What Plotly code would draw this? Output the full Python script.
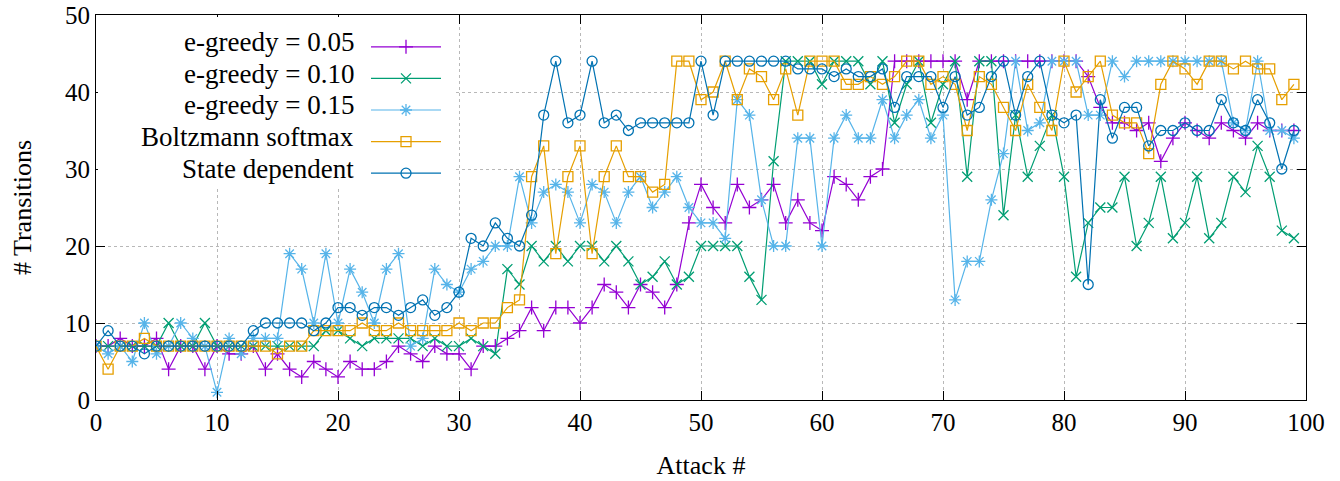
import plotly.graph_objects as go

attack = list(range(100))

eg05 = [7,7,8,7,7,8,4,7,7,4,7,6,6,7,4,6,4,3,5,4,
        3,5,4,4,5,7,6,5,7,6,6,4,7,7,8,9,12,9,12,12,
        10,12,15,14,12,15,14,12,15,23,28,25,23,28,25,26,28,23,26,23,
        22,29,28,26,29,30,44,44,44,44,44,44,39,44,44,44,44,44,44,44,
        44,44,42,38,36,36,35,36,31,34,36,35,34,36,35,34,36,35,35,35]
eg10 = [7,7,7,7,7,7,10,7,7,10,7,7,7,7,7,7,7,7,7,9,
        9,8,7,8,8,8,8,7,8,7,7,8,7,6,17,15,20,18,20,18,
        20,20,18,20,18,15,16,18,15,16,20,20,20,20,16,13,31,44,44,44,
        41,44,44,44,41,44,36,41,44,36,41,44,29,44,44,24,37,29,33,37,
        29,16,23,25,25,29,20,23,29,21,23,29,21,23,29,27,33,29,22,21]
eg15 = [7,6,7,5,10,6,7,10,8,7,1,8,6,8,8,8,19,17,10,19,
        10,17,14,10,17,19,7,8,17,15,14,17,18,20,20,29,23,27,28,27,
        23,28,27,23,27,29,25,27,29,25,23,23,21,39,37,26,20,20,34,34,
        20,34,37,34,34,39,34,37,39,34,37,13,18,18,26,32,44,35,36,44,
        44,44,37,37,44,42,44,44,44,44,44,44,44,44,36,35,44,35,35,34]
boltz = [7,4,7,7,8,7,7,7,7,7,7,7,7,7,7,6,7,7,9,9,
         9,9,10,9,9,10,9,9,9,9,10,9,10,10,12,13,29,33,19,29,
         33,19,29,33,29,29,27,28,44,44,39,40,44,39,43,42,39,43,37,44,
         44,44,41,41,42,41,42,44,44,41,42,41,35,42,41,38,35,41,38,35,
         44,40,42,44,37,36,36,32,41,44,43,41,44,44,43,44,43,43,39,41]
state = [7,9,7,7,6,7,7,7,7,7,7,7,7,9,10,10,10,10,9,10,
         12,12,11,12,12,11,12,13,11,12,14,21,20,23,21,20,24,37,44,36,
         37,44,36,37,35,36,36,36,36,36,44,37,44,44,44,44,44,44,43,43,
         43,42,43,42,42,43,38,42,42,42,38,42,37,38,42,44,37,42,44,37,
         36,37,15,39,34,38,38,33,35,35,36,35,35,39,36,35,39,36,30,35]

names = ["e-greedy = 0.05", "e-greedy = 0.10", "e-greedy = 0.15",
         "Boltzmann softmax", "State dependent"]
series = [eg05, eg10, eg15, boltz, state]
colors = ["#9400d3", "#009e73", "#56b4e9", "#e69f00", "#0072b2"]
symbols = ["cross-thin-open", "x-thin-open", "asterisk-open",
           "square-open", "circle-open"]

FONT = "Liberation Serif"
W, H = 1340, 481
L, T, R, B = 96, 15, 34, 81
pw, ph = W - L - R, H - T - B
bottom_px = 400              # y of the x axis
left_px = 96                 # x of the y axis

fig = go.Figure()
for nm, s, c, sym in zip(names, series, colors, symbols):
    fig.add_trace(go.Scatter(
        x=attack, y=s, mode="lines+markers", name="",
        line=dict(color=c, width=1.2),
        marker=dict(symbol=sym, size=10, color=c, line=dict(color=c, width=1.3)),
        hovertext=nm,
    ))

# legend labels (right-aligned text, gnuplot style)
leg_y = [42, 73.5, 105, 137, 169]
annotations = []
for nm, py in zip(names, leg_y):
    annotations.append(dict(
        x=(356 - left_px) / pw, y=(bottom_px - py) / ph, xref="paper", yref="paper",
        text=nm, showarrow=False, xanchor="right", yanchor="middle",
        font=dict(family=FONT, size=27, color="black")))

shapes = [dict(type="rect", xref="paper", yref="paper",
               x0=2 / pw, x1=(453 - left_px) / pw, y0=(bottom_px - 186) / ph, y1=1 - 2 / ph,
               fillcolor="white", line=dict(width=0), layer="above")]

axis_common = dict(
    showline=True, linecolor="black", linewidth=1, mirror="ticks",
    ticks="inside", ticklen=9, tickcolor="black", tickwidth=1,
    showgrid=True, gridcolor="#b8b8b8", griddash="dot", gridwidth=1,
    zeroline=False, automargin=False, ticklabeloverflow="allow",
    tickfont=dict(family=FONT, size=25, color="black"),
)

fig.update_layout(
    width=W, height=H,
    margin=dict(l=L, r=R, t=T, b=B, autoexpand=False),
    paper_bgcolor="white", plot_bgcolor="white",
    xaxis=dict(range=[0, 100], dtick=10, tick0=0,
               title=dict(text="Attack #", font=dict(family=FONT, size=26, color="black"), standoff=20),
               **axis_common),
    yaxis=dict(range=[0, 50], dtick=10, tick0=0,
               title=dict(text="# Transitions", font=dict(family=FONT, size=26, color="black"), standoff=25),
               **axis_common),
    showlegend=True,
    legend=dict(x=(366 - left_px) / pw, y=(bottom_px - 26) / ph, xanchor="left", yanchor="top",
                bgcolor="rgba(0,0,0,0)", font=dict(family=FONT, size=22),
                itemwidth=70, tracegroupgap=0),
    annotations=annotations,
    shapes=shapes,
)

# remove the default 8px page margin so the 1340x481 figure fills the window exactly
fig.write_html("out.html", config={"displayModeBar": False},
               post_script="document.body.style.margin='0';")
